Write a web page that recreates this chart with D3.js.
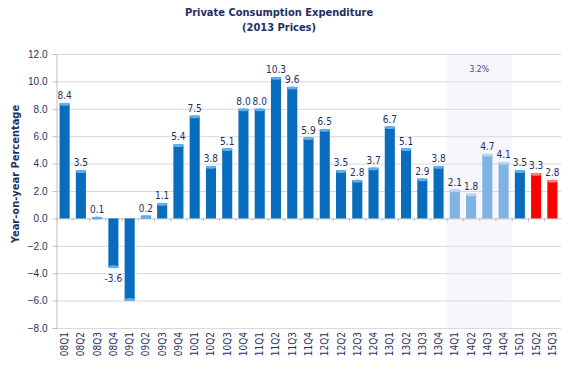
<!DOCTYPE html>
<html>
<head>
<meta charset="utf-8">
<script src="https://cdn.jsdelivr.net/npm/d3@7"></script>
<style>
  html, body { margin: 0; padding: 0; background: #fff; }
  svg { display: block; font-family: "DejaVu Sans Condensed", "Liberation Sans", sans-serif; }
</style>
</head>
<body>
<svg id="chart" width="584" height="378"></svg>
<script>
const categories = ["08Q1","08Q2","08Q3","08Q4","09Q1","09Q2","09Q3","09Q4","10Q1","10Q2","10Q3","10Q4","11Q1","11Q2","11Q3","11Q4","12Q1","12Q2","12Q3","12Q4","13Q1","13Q2","13Q3","13Q4","14Q1","14Q2","14Q3","14Q4","15Q1","15Q2","15Q3"];
const values = [8.4,3.5,0.1,-3.6,-6.0,0.2,1.1,5.4,7.5,3.8,5.1,8.0,8.0,10.3,9.6,5.9,6.5,3.5,2.8,3.7,6.7,5.1,2.9,3.8,2.1,1.8,4.7,4.1,3.5,3.3,2.8];
const valueLabels = ["8.4","3.5","0.1","-3.6",null,"0.2","1.1","5.4","7.5","3.8","5.1","8.0","8.0","10.3","9.6","5.9","6.5","3.5","2.8","3.7","6.7","5.1","2.9","3.8","2.1","1.8","4.7","4.1","3.5","3.3","2.8"];
const barGroup = ["a","a","a","a","a","a","a","a","a","a","a","a","a","a","a","a","a","a","a","a","a","a","a","a","b","b","b","b","a","c","c"];
const yTicks = [-8,-6,-4,-2,0,2,4,6,8,10,12];
const shadedRange = ["14Q1","14Q4"];
const shadedLabel = "3.2%";
const titleLines = ["Private Consumption Expenditure","(2013 Prices)"];
const yTitle = "Year-on-year Percentage";

const colors = { a: "#0a6cbd", b: "#7fb3e2", c: "#ff0000" };
const capColors = { a: "#5cb0ee", b: "#b5d6f3", c: "#ff8080" };
const navy = "#1f2f63";

const svg = d3.select("#chart");
const m = { left: 56, right: 561, top: 54, bottom: 328 };

const x = d3.scaleBand().domain(categories).range([m.left, m.right]).paddingInner(0.38).paddingOuter(0.22);
const y = d3.scaleLinear().domain([-8, 12]).range([m.bottom, m.top]);

const items = values.map((v, i) => ({ cat: categories[i], v: v, label: valueLabels[i], g: barGroup[i] }));

// shaded band
const bandX0 = x(shadedRange[0]) - x.step() * x.paddingInner() / 2;
const bandX1 = x(shadedRange[1]) + x.bandwidth() + x.step() * x.paddingInner() / 2;
svg.append("rect").attr("x", bandX0).attr("y", m.top).attr("width", bandX1 - bandX0).attr("height", m.bottom - m.top).attr("fill", "#f8f6fc");
svg.append("text").attr("x", (bandX0 + bandX1) / 2).attr("y", m.top + 18).attr("text-anchor", "middle")
  .attr("font-size", 8.5).attr("fill", "#3a4a7a").text(shadedLabel);

// gridlines
svg.append("g").selectAll("line").data(yTicks).join("line")
  .attr("x1", m.left).attr("x2", m.right).attr("y1", d => y(d) + 0.5).attr("y2", d => y(d) + 0.5)
  .attr("stroke", d => d === 0 ? "#bfbfbf" : "#d9d9d9").attr("stroke-width", 1);

// y axis
const yAxis = svg.append("g").attr("transform", `translate(${m.left + 0.5},0)`)
  .call(d3.axisLeft(y).tickValues(yTicks).tickFormat(d3.format(".1f")).tickSize(4).tickPadding(5));
yAxis.select(".domain").attr("stroke", "#bfbfbf");
yAxis.selectAll(".tick line").attr("stroke", "#bfbfbf");
yAxis.selectAll("text").attr("font-size", 10).attr("fill", navy).attr("font-family", null);

// x axis tick marks on zero line
svg.append("g").selectAll("line").data(categories).join("line")
  .attr("x1", d => x(d) - x.step() * x.paddingInner() / 2 + 0.5)
  .attr("x2", d => x(d) - x.step() * x.paddingInner() / 2 + 0.5)
  .attr("y1", y(0)).attr("y2", y(0) + 3).attr("stroke", "#bfbfbf");

// bars
const bars = svg.append("g");
bars.selectAll("rect").data(items).join("rect")
  .attr("x", d => x(d.cat))
  .attr("y", d => y(Math.max(0, d.v)))
  .attr("width", x.bandwidth())
  .attr("height", d => Math.abs(y(d.v) - y(0)))
  .attr("fill", d => colors[d.g]);
// caps (3D effect)
bars.selectAll("ellipse").data(items).join("ellipse")
  .attr("cx", d => x(d.cat) + x.bandwidth() / 2)
  .attr("cy", d => d.v >= 0 ? y(d.v) + 1 : y(d.v) - 1)
  .attr("rx", x.bandwidth() / 2).attr("ry", 1.5)
  .attr("fill", d => capColors[d.g]);

// value labels
svg.append("g").selectAll("text").data(items.filter(d => d.label !== null)).join("text")
  .attr("x", d => x(d.cat) + x.bandwidth() / 2)
  .attr("y", d => d.v >= 0 ? y(d.v) - 4 : y(d.v) + 14)
  .attr("text-anchor", "middle").attr("font-size", 10).attr("fill", navy)
  .text(d => d.label);

// x labels
svg.append("g").selectAll("text").data(categories).join("text")
  .attr("transform", d => `translate(${x(d) + x.bandwidth() / 2 + 3.5},${m.bottom + 4}) rotate(-90)`)
  .attr("text-anchor", "end").attr("font-size", 10).attr("fill", navy).text(d => d);

// titles
svg.append("g").selectAll("text").data(titleLines).join("text")
  .attr("x", 279).attr("y", (d, i) => 16 + i * 15)
  .attr("text-anchor", "middle").attr("font-size", 11).attr("font-weight", "bold").attr("fill", navy).text(d => d);

svg.append("text").attr("transform", `translate(19,174) rotate(-90)`)
  .attr("text-anchor", "middle").attr("font-size", 11).attr("font-weight", "bold").attr("fill", navy).text(yTitle);
</script>
</body>
</html>
